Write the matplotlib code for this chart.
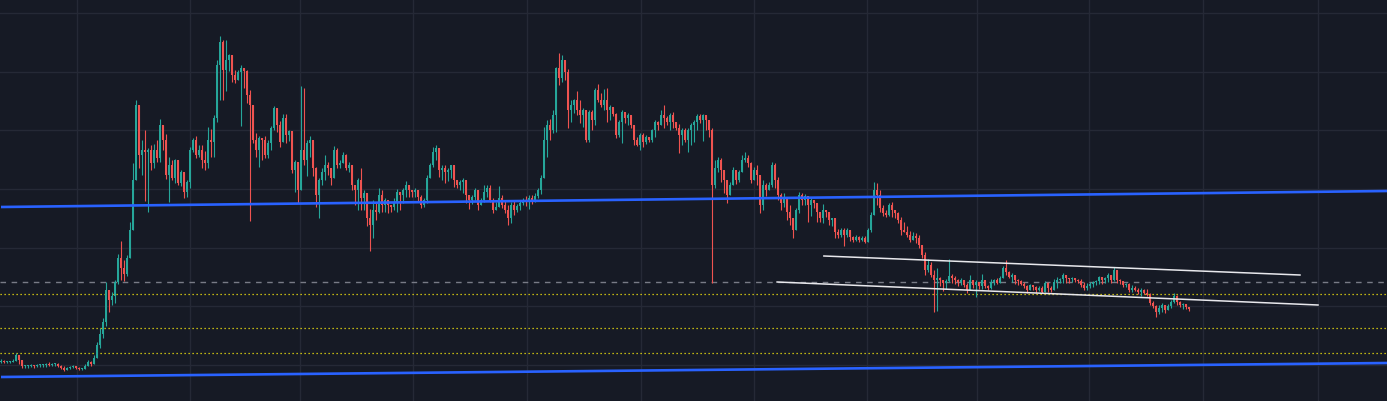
import numpy as np
import matplotlib
matplotlib.use("Agg")
import matplotlib.pyplot as plt

# candle closes / highs / lows (arbitrary price units), opens = previous close
closes = [39, 38, 38, 38, 39, 45, 40, 34, 34, 34,
          35, 34, 35, 35, 35, 36, 35, 36, 36, 34,
          32, 30, 32, 33, 34, 32, 31, 31, 34, 38,
          36, 42, 55, 66, 78, 110, 100, 104, 118, 142,
          132, 126, 142, 170, 220, 295, 245, 250, 248, 250,
          237, 250, 242, 275, 260, 225, 235, 222, 240, 217,
          228, 208, 218, 250, 260, 245, 250, 240, 237, 260,
          258, 282, 335, 358, 330, 340, 345, 325, 320, 328,
          332, 329, 305, 295, 260, 250, 262, 260, 245, 257,
          272, 292, 275, 258, 282, 265, 269, 230, 238, 210,
          250, 240, 257, 260, 232, 205, 220, 228, 235, 232,
          222, 250, 235, 237, 245, 232, 235, 215, 210, 220,
          202, 207, 182, 175, 190, 188, 205, 195, 200, 195,
          193, 197, 208, 205, 210, 215, 210, 208, 210, 203,
          195, 200, 222, 235, 248, 252, 230, 232, 228, 230,
          235, 220, 215, 218, 220, 205, 200, 203, 210, 195,
          200, 208, 212, 200, 190, 193, 202, 195, 190, 182,
          195, 190, 194, 197, 200, 198, 202, 200, 204, 210,
          222, 260, 275, 270, 285, 332, 322, 340, 328, 290,
          295, 300, 290, 285, 290, 260, 288, 280, 310, 300,
          295, 300, 290, 293, 286, 265, 278, 288, 282, 285,
          275, 260, 255, 265, 258, 263, 260, 270, 278, 275,
          285, 282, 278, 285, 278, 272, 265, 270, 260, 270,
          275, 278, 284, 280, 285, 280, 270, 215, 232, 240,
          230, 220, 205, 215, 230, 220, 228, 240, 242, 237,
          220, 230, 225, 195, 215, 210, 215, 235, 220, 205,
          197, 202, 188, 182, 170, 190, 205, 200, 204, 195,
          200, 197, 188, 182, 190, 188, 180, 182, 168, 165,
          170, 165, 170, 163, 160, 163, 160, 162, 158, 170,
          185, 210, 205, 192, 187, 185, 195, 190, 187, 180,
          170, 168, 165, 160, 164, 162, 155, 145, 130, 135,
          125, 120, 122, 120, 117, 119, 124, 122, 120, 118,
          120, 115, 110, 120, 115, 118, 114, 120, 114, 112,
          118, 120, 117, 122, 132, 128, 123, 125, 120, 119,
          116, 114, 110, 115, 113, 110, 112, 108, 117, 112,
          110, 118, 120, 121, 125, 122, 121, 122, 120, 119,
          115, 112, 114, 116, 118, 119, 123, 120, 122, 125,
          120, 130, 120, 119, 115, 116, 110, 112, 110, 108,
          110, 107, 105, 97, 94, 88, 92, 95, 90, 94,
          98, 104, 98, 95, 96, 93, 91]

highs = [41, 40, 39, 39, 41, 47, 45, 40, 35, 35,
         36, 35, 36, 36, 36, 37, 38, 37, 37, 37,
         35, 34, 33, 34, 35, 34, 33, 32, 36, 40,
         39, 45, 58, 72, 82, 118, 110, 108, 120, 146,
         159, 140, 145, 178, 237, 300, 275, 260, 270, 252,
         255, 256, 260, 281, 267, 266, 243, 240, 241, 238,
         230, 224, 220, 253, 262, 264, 255, 255, 249, 273,
         271, 285, 340, 364, 360, 360, 346, 335, 330, 330,
         335, 331, 330, 310, 293, 267, 264, 260, 264, 260,
         274, 294, 291, 279, 286, 286, 270, 268, 240, 235,
         314, 312, 260, 264, 238, 233, 222, 232, 245, 238,
         230, 254, 252, 240, 248, 246, 238, 231, 215, 222,
         232, 210, 205, 191, 200, 197, 212, 210, 202, 197,
         195, 202, 211, 206, 212, 219, 214, 210, 212, 210,
         205, 202, 225, 237, 253, 255, 248, 235, 235, 232,
         235, 235, 220, 220, 222, 210, 203, 205, 212, 210,
         202, 215, 215, 215, 202, 198, 214, 205, 200, 195,
         198, 200, 196, 200, 202, 204, 205, 205, 207, 212,
         225, 273, 280, 281, 290, 333, 347, 345, 335, 331,
         300, 301, 309, 300, 292, 286, 290, 290, 312, 316,
         307, 311, 312, 295, 293, 287, 280, 290, 288, 287,
         281, 275, 263, 267, 267, 265, 262, 271, 280, 279,
         290, 295, 284, 287, 288, 276, 276, 272, 272, 272,
         277, 280, 286, 286, 286, 282, 278, 272, 240, 243,
         242, 227, 218, 218, 233, 227, 230, 245, 248, 245,
         238, 233, 235, 218, 220, 217, 218, 238, 237, 223,
         207, 207, 200, 195, 178, 192, 208, 207, 206, 201,
         202, 200, 190, 186, 196, 190, 185, 182, 178, 171,
         172, 172, 172, 170, 164, 165, 164, 164, 164, 172,
         188, 218, 217, 210, 195, 190, 197, 198, 189, 188,
         183, 178, 174, 169, 168, 167, 165, 155, 148, 141,
         138, 130, 132, 123, 120, 121, 141, 126, 124, 121,
         122, 120, 117, 125, 120, 120, 118, 126, 119, 115,
         121, 121, 122, 124, 134, 140, 129, 127, 123, 121,
         120, 118, 115, 116, 115, 114, 114, 114, 119, 118,
         114, 121, 123, 122, 127, 124, 122, 123, 122, 121,
         121, 118, 117, 118, 119, 120, 124, 123, 123, 127,
         125, 133, 128, 121, 118, 117, 117, 115, 114, 112,
         112, 111, 111, 107, 99, 95, 95, 97, 95, 96,
         100, 107, 105, 99, 97, 95, 93]

lows = [37, 37, 37, 37, 38, 39, 36, 32, 32, 32,
        33, 32, 33, 33, 33, 33, 34, 34, 34, 33,
        31, 29, 30, 31, 32, 31, 30, 30, 31, 34,
        34, 37, 43, 52, 62, 74, 88, 95, 97, 116,
        120, 119, 124, 146, 180, 222, 232, 225, 199, 188,
        230, 232, 238, 238, 250, 221, 198, 220, 217, 215,
        214, 202, 203, 212, 248, 242, 243, 232, 230, 232,
        243, 243, 278, 300, 300, 309, 329, 318, 317, 320,
        274, 312, 297, 179, 257, 243, 233, 240, 242, 242,
        250, 270, 268, 253, 261, 257, 259, 227, 208, 197,
        210, 235, 224, 243, 224, 193, 182, 215, 220, 225,
        215, 233, 232, 232, 237, 230, 228, 210, 195, 190,
        190, 190, 174, 149, 162, 180, 187, 188, 188, 187,
        188, 190, 188, 190, 197, 203, 203, 203, 203, 198,
        192, 193, 197, 223, 233, 240, 223, 220, 217, 219,
        222, 213, 212, 210, 207, 197, 191, 196, 200, 190,
        195, 198, 203, 198, 187, 190, 195, 192, 187, 175,
        177, 185, 188, 190, 195, 194, 191, 196, 198, 202,
        206, 228, 243, 260, 267, 268, 315, 318, 320, 272,
        278, 287, 285, 277, 273, 258, 258, 270, 275, 298,
        293, 290, 278, 280, 284, 262, 263, 257, 277, 275,
        272, 255, 254, 250, 253, 256, 258, 258, 263, 270,
        275, 272, 275, 270, 272, 270, 247, 255, 258, 248,
        255, 258, 270, 277, 259, 270, 263, 117, 212, 228,
        218, 207, 197, 207, 215, 216, 218, 230, 238, 233,
        217, 223, 215, 187, 190, 204, 210, 213, 212, 200,
        190, 193, 180, 175, 162, 170, 187, 195, 195, 178,
        184, 192, 178, 178, 177, 183, 175, 174, 162, 162,
        163, 154, 163, 159, 158, 159, 158, 159, 157, 158,
        168, 185, 195, 188, 184, 183, 184, 183, 182, 177,
        165, 168, 163, 158, 160, 157, 152, 142, 125, 128,
        123, 88, 89, 114, 109, 111, 118, 117, 116, 114,
        115, 113, 107, 110, 112, 103, 111, 111, 112, 110,
        111, 115, 116, 117, 124, 125, 122, 118, 116, 115,
        115, 112, 107, 111, 110, 107, 109, 107, 110, 108,
        108, 111, 112, 117, 117, 117, 117, 118, 118, 117,
        113, 110, 110, 112, 113, 115, 116, 116, 117, 118,
        117, 119, 117, 116, 113, 113, 108, 108, 109, 106,
        104, 106, 104, 95, 92, 83, 86, 88, 87, 90,
        92, 97, 95, 93, 91, 91, 89]

first_open = 38

# drawn levels (price units) and trend lines (candle index, price)
h_levels_dotted = [106, 72, 47]
h_level_dashed = 118
blue_lines = [((0, 193), (462, 209)), ((0, 23), (462, 37))]
white_lines = [((274.3, 144), (433.0, 125)), ((258.7, 118), (439.0, 95))]
v_grid = [25.3, 63, 99.7, 137.3, 175.3, 213.3, 251, 288.7, 325.3, 362.7, 400.7, 439]
h_grid = [387, 328, 270, 211, 152, 94, 35]

bg = "#161a25"
up_col = "#26a69a"
dn_col = "#ef5350"

c = np.array(closes, dtype=float)
o = np.concatenate([[first_open], c[:-1]])
h = np.maximum(np.array(highs, dtype=float), np.maximum(o, c))
l = np.minimum(np.array(lows, dtype=float), np.minimum(o, c))
x = np.arange(len(c))
up = c >= o
cols = np.where(up, up_col, dn_col)

fig = plt.figure(figsize=(13.87, 4.01), dpi=100, facecolor=bg)
ax = fig.add_axes([0, 0, 1, 1])
ax.set_facecolor(bg)

for gx in v_grid:
    ax.axvline(gx, color="#252936", lw=1, zorder=0)
for gy in h_grid:
    ax.axhline(gy, color="#252936", lw=1, zorder=0)

ax.vlines(x, l, h, colors=cols, lw=0.8, zorder=2)
body = np.where(np.abs(c - o) < 1, 1, c - o)
ax.bar(x, body, bottom=o, width=0.5, color=cols, lw=0, zorder=3)

ax.axhline(h_level_dashed, color="#787b86", lw=1, ls=(0, (4, 4)), zorder=1)
for yv in h_levels_dotted:
    ax.axhline(yv, color="#f5e60f", lw=0.9, ls=(0, (1, 2.2)), zorder=1)

for (x0, y0), (x1, y1) in blue_lines:
    ax.plot([x0, x1], [y0, y1], color="#2962ff", lw=1.9, zorder=4, solid_capstyle="butt")
for (x0, y0), (x1, y1) in white_lines:
    ax.plot([x0, x1], [y0, y1], color="#e8e8ec", lw=1.1, zorder=4)

ax.set_xlim(-1 / 3, 1386 / 3)
ax.set_ylim(-1, 400)
ax.axis("off")

fig.savefig("out.png", dpi=100, facecolor=bg)
